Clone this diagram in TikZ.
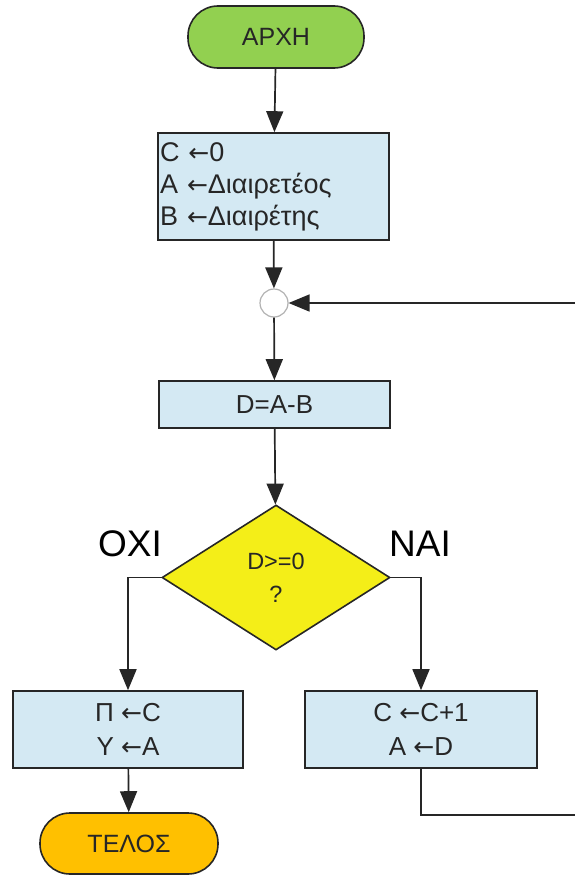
\documentclass[tikz,border=0pt]{standalone}
\usepackage{fontspec}
\setmainfont{Liberation Sans}
\newfontfamily\arrowfont{DejaVu Sans}
\newcommand\getsarrow{{\arrowfont\fontsize{25}{25}\selectfont ←}}
\usetikzlibrary{shapes.geometric,arrows.meta}

\definecolor{startgreen}{RGB}{146,208,80}
\definecolor{endorange}{RGB}{255,192,0}
\definecolor{boxblue}{RGB}{212,233,243}
\definecolor{testyellow}{RGB}{244,238,24}
\definecolor{edgegray}{RGB}{38,38,38}

\begin{document}
\begin{tikzpicture}[x=1pt, y=-1pt,
	every node/.style={text=edgegray, font=\fontsize{26}{34}\selectfont},
	term/.style={draw=edgegray, line width=1.6pt, rounded corners=30pt,
		minimum width=176pt, minimum height=62pt,
		font=\fontsize{25}{30}\selectfont},
	proc/.style={draw=edgegray, line width=1.6pt, fill=boxblue,
		minimum width=231pt, align=center},
	testbox/.style={diamond, draw=edgegray, line width=1.6pt, fill=testyellow,
		minimum width=228pt, minimum height=145pt, inner sep=0pt, align=center,
		font=\fontsize{23.5}{33}\selectfont},
	flow/.style={draw=edgegray, line width=1.7pt,
		-{Triangle[length=21pt, width=17pt]}},
	answer/.style={font=\fontsize{37}{40}\selectfont, text=black}]

\useasboundingbox (0,0) rectangle (575,878);

\node [term, fill=startgreen] (start) at (276, 37) {ΑΡΧΗ};
\node [proc, minimum height=107pt, text width=227pt, align=left, inner sep=2pt,
	font=\fontsize{27}{32}\selectfont] (init) at (273.5, 186.5)
	{C \getsarrow0\\A \getsarrow Διαιρετέος\\B \getsarrow Διαιρέτης};
\node [circle, draw=gray!60, fill=white, line width=1.2pt,
	minimum size=28pt, inner sep=0pt] (join) at (274, 303) {};
\node [proc, minimum height=47pt] (diff) at (274.5, 404.5) {D=A-B};
\node [testbox] (check) at (276, 577.5) {D>=0\\?};

\node [answer] (no) at (130, 544) {ΟΧΙ};
\node [answer] (yes) at (420, 544) {ΝΑΙ};

\node [proc, minimum width=230pt, minimum height=77pt] (result) at (128, 729.5)
	{Π \getsarrow C\\Υ \getsarrow A};
\node [proc, minimum width=232pt, minimum height=77pt] (step) at (421, 729.5)
	{C \getsarrow C+1\\A \getsarrow D};
\node [term, fill=endorange, minimum width=178pt, minimum height=61pt]
	(stop) at (129, 843.5) {ΤΕΛΟΣ};

\coordinate (back) at (583, 815);

\draw [flow] (start) -- (init);
\draw [flow] (init) -- (join);
\draw [flow] (join) -- (diff);
\draw [flow] (diff) -- (check);
\draw [flow] (check.west) -| (result.north);
\draw [flow] (check.east) -| (step.north);
\draw [flow] (result) -- (stop);
\draw [flow] (step.south) |- (back) |- (join.east);
\end{tikzpicture}
\end{document}
